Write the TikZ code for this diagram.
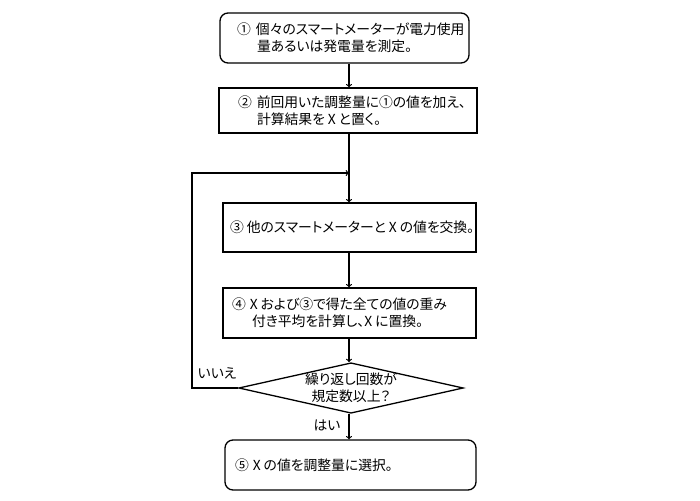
\documentclass[tikz,border=0pt]{standalone}
\usepackage{fontspec}
\newfontfamily\jpfont[RawFeature=+palt]{Noto Sans CJK JP}
\usetikzlibrary{shapes.geometric,arrows}

\newcommand{\xvar}{\hspace*{3pt}X\hspace*{3pt}}

\begin{document}
\begin{tikzpicture}[x=1pt,y=-1pt,font=\jpfont\fontsize{13.8}{17}\selectfont]
    \tikzstyle{stepbox}=[draw,line width=1.3pt,align=left,inner ysep=0pt]
    \tikzstyle{decision}=[diamond,draw,line width=1.3pt,align=center,inner sep=0pt,aspect=4.45,minimum width=218pt,minimum height=49pt]
    \tikzstyle{flow}=[->,line width=1.2pt]

    \useasboundingbox (0,0) rectangle (700,500);
    \coordinate (spine) at (349,0);
    \coordinate (loopx) at (192,0);

    \node[stepbox,rounded corners=8pt,text width=215pt,inner xsep=17pt,minimum height=50pt] (measure) at (344.5,38)
        {\mbox{①\hspace*{5pt}個々のスマートメーターが電力使用}\\\mbox{\hspace*{20pt}量あるいは発電量を測定。}};
    \node[stepbox,text width=220pt,inner xsep=19pt,minimum height=45pt] (addup) at (348,110.5)
        {\mbox{②\hspace*{5pt}前回用いた調整量に①の値を加え、}\\\mbox{\hspace*{19pt}計算結果を\xvar と置く。}};
    \node[stepbox,text width=239pt,inner xsep=7pt,minimum height=49pt] (exchange) at (349.5,227.5)
        {\mbox{③\hspace*{3pt}他のスマートメーターと\xvar の値を交換。}};
    \node[stepbox,text width=235pt,inner xsep=9pt,minimum height=50pt] (average) at (349.5,313)
        {\mbox{④\hspace*{4pt}X\hspace*{3pt}および③で得た全ての値の重み}\\\mbox{\hspace*{20pt}付き平均を計算し、X\hspace*{3pt}に置換。}};
    \node[decision] (check) at (351,388) {繰り返し回数が\\規定数以上？};
    \node[stepbox,rounded corners=8pt,text width=231pt,inner xsep=10pt,minimum height=50pt] (select) at (350.5,465)
        {\mbox{⑤\hspace*{4pt}X\hspace*{3pt}の値を調整量に選択。}};

    \node (no) at (217,373) {いいえ};
    \node (yes) at (327,425) {はい};

    \coordinate (join) at (349,173);

    \draw [flow] (measure.south -| spine) -- (addup.north -| spine);
    \draw [flow] (addup.south -| spine) -- (exchange.north -| spine);
    \draw [flow] (exchange.south -| spine) -- (average.north -| spine);
    \draw [flow] (average.south -| spine) -- (check.north -| spine);
    \draw [flow] (check.south -| spine) -- (select.north -| spine);
    \draw [flow] (check.west) -- (check.west -| loopx) |- (join);

\end{tikzpicture}
\end{document}
